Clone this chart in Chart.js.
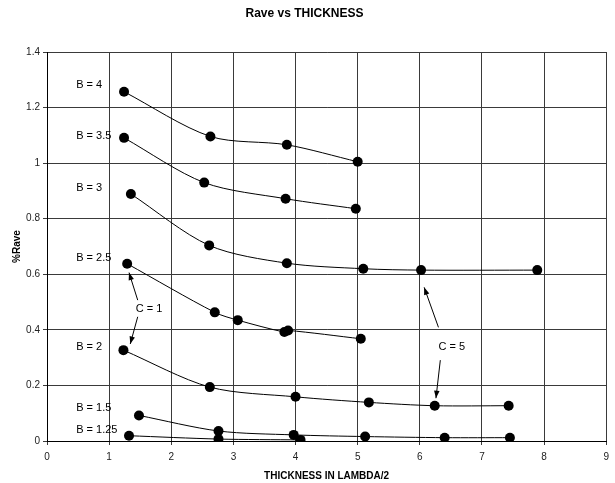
<!DOCTYPE html>
<html>
<head>
<meta charset="utf-8">
<script src="https://cdn.jsdelivr.net/npm/chart.js@4"></script>
<style>
  html, body { margin: 0; padding: 0; background: #fff; }
  #wrap { width: 615px; height: 483px; }
</style>
</head>
<body>
<div id="wrap"><canvas id="raveChart"></canvas></div>
<script>
// values: [thickness, %Rave]
const b4   = [[1.24, 1.257], [2.63, 1.096], [3.86, 1.066], [5.00, 1.005]];
const b35  = [[1.24, 1.091], [2.53, 0.930], [3.84, 0.872], [4.97, 0.836]];
const b3   = [[1.35, 0.889], [2.61, 0.704], [3.86, 0.640], [5.09, 0.620], [6.02, 0.615], [7.89, 0.615]];
const b25  = [[1.29, 0.638], [2.70, 0.463], [3.07, 0.435], [3.82, 0.392], [3.88, 0.398], [5.05, 0.368]];
const b2   = [[1.23, 0.327], [2.62, 0.194], [4.00, 0.159], [5.18, 0.139], [6.24, 0.127], [7.43, 0.127]];
const b15  = [[1.48, 0.092], [2.76, 0.036], [3.97, 0.022], [5.12, 0.016], [6.40, 0.012], [7.45, 0.012]];
const b125 = [[1.32, 0.019], [2.76, 0.007], [4.08, 0.004]];

const xTicks = ['0', '1', '2', '3', '4', '5', '6', '7', '8', '9'];
const yTicks = ['0', '0.2', '0.4', '0.6', '0.8', '1', '1.2', '1.4'];

// curve labels, in data units: [text, x, y]
const curveLabels = [
    ['B = 4', 0.47, 1.281],
    ['B = 3.5', 0.47, 1.098],
    ['B = 3', 0.47, 0.910],
    ['B = 2.5', 0.47, 0.659],
    ['B = 2', 0.47, 0.338],
    ['B = 1.5', 0.47, 0.120],
    ['B = 1.25', 0.47, 0.040],
    ['C = 1', 1.43, 0.475],
    ['C = 5', 6.30, 0.339]
];
// arrows: [fromX, fromY, tipX, tipY]
const arrows = [
    [1.46, 0.507, 1.32, 0.606],
    [1.46, 0.447, 1.34, 0.349],
    [6.30, 0.409, 6.07, 0.553],
    [6.33, 0.291, 6.26, 0.154]
];

const toXY = arr => arr.map(p => ({ x: p[0], y: p[1] }));
const FONT = "'Liberation Sans', Arial, sans-serif";

const series = [b4, b35, b3, b25, b2, b15, b125].map(d => ({
    data: toXY(d),
    showLine: true,
    borderColor: '#000',
    borderWidth: 1,
    tension: 0.3,
    pointRadius: 5,
    pointBackgroundColor: '#000',
    pointBorderColor: '#000',
    pointBorderWidth: 0
}));

// draws the B/C labels and the arrows
const notesPlugin = {
    id: 'notes',
    afterDatasetsDraw(chart) {
        const { ctx, scales: { x, y } } = chart;
        ctx.save();
        ctx.fillStyle = '#000';
        ctx.font = '11px ' + FONT;
        ctx.textAlign = 'left';
        ctx.textBaseline = 'middle';
        curveLabels.forEach(l => {
            ctx.fillText(l[0], x.getPixelForValue(l[1]), y.getPixelForValue(l[2]));
        });
        ctx.strokeStyle = '#000';
        ctx.lineWidth = 1;
        arrows.forEach(a => {
            const x0 = x.getPixelForValue(a[0]), y0 = y.getPixelForValue(a[1]);
            const x1 = x.getPixelForValue(a[2]), y1 = y.getPixelForValue(a[3]);
            ctx.beginPath();
            ctx.moveTo(x0, y0);
            ctx.lineTo(x1, y1);
            ctx.stroke();
            const ang = Math.atan2(y1 - y0, x1 - x0);
            const len = 8, wid = 0.35;
            ctx.beginPath();
            ctx.moveTo(x1, y1);
            ctx.lineTo(x1 - len * Math.cos(ang - wid), y1 - len * Math.sin(ang - wid));
            ctx.lineTo(x1 - len * Math.cos(ang + wid), y1 - len * Math.sin(ang + wid));
            ctx.closePath();
            ctx.fill();
        });
        ctx.restore();
    }
};

new Chart(document.getElementById('raveChart').getContext('2d'), {
    type: 'scatter',
    data: { datasets: series },
    plugins: [notesPlugin],
    options: {
        responsive: true,
        maintainAspectRatio: false,
        animation: false,
        layout: { padding: { top: 0, right: 6, left: 0, bottom: 0 } },
        plugins: {
            legend: { display: false },
            tooltip: { enabled: false },
            title: {
                display: true,
                text: 'Rave vs THICKNESS',
                color: '#000',
                font: { family: FONT, size: 12, weight: 'bold' },
                padding: { top: 6, bottom: 31.6 }
            }
        },
        scales: {
            x: {
                type: 'linear',
                min: 0,
                max: 9,
                afterFit: s => { s.height = 42; },
                grid: { color: '#3a3a3a', lineWidth: 1, tickLength: 4 },
                border: { color: '#000' },
                ticks: {
                    stepSize: 1,
                    padding: 6,
                    color: '#222',
                    font: { family: FONT, size: 10 },
                    callback: (v, i) => xTicks[i]
                },
                title: {
                    display: true,
                    text: 'THICKNESS IN LAMBDA/2',
                    color: '#000',
                    font: { family: FONT, size: 10, weight: 'bold' },
                    padding: { top: 0, bottom: 1 }
                }
            },
            y: {
                type: 'linear',
                min: 0,
                max: 1.4,
                afterFit: s => { s.width = 47; },
                grid: { color: '#3a3a3a', lineWidth: 1, tickLength: 4 },
                border: { color: '#000' },
                ticks: {
                    stepSize: 0.2,
                    padding: 3,
                    color: '#222',
                    font: { family: FONT, size: 10 },
                    callback: (v, i) => yTicks[i]
                },
                title: {
                    display: true,
                    text: '%Rave',
                    color: '#000',
                    font: { family: FONT, size: 10, weight: 'bold' },
                    padding: { top: 11, bottom: 0 }
                }
            }
        }
    }
});
</script>
</body>
</html>
